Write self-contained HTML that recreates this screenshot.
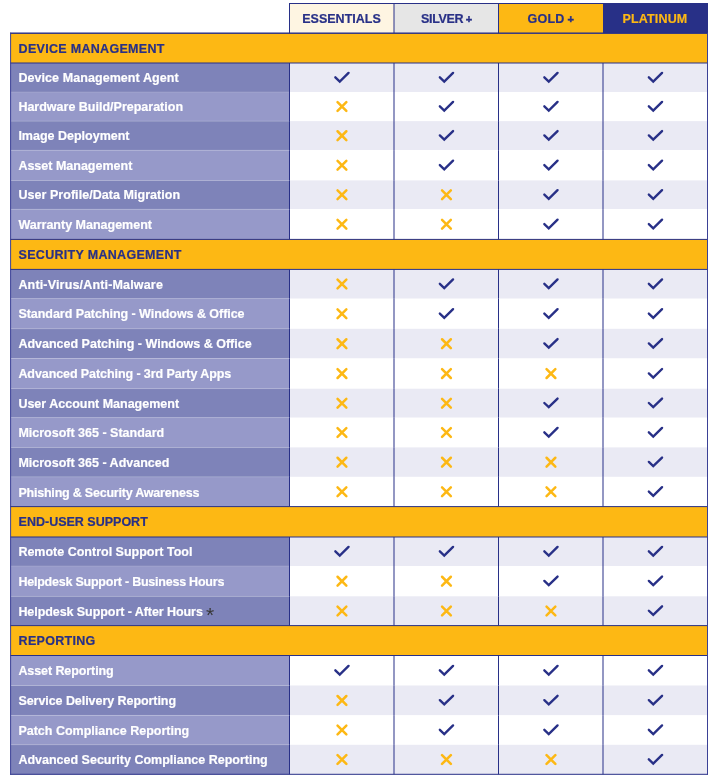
<!DOCTYPE html>
<html><head><meta charset="utf-8"><title>Plan comparison</title>
<style>
html,body{margin:0;padding:0;background:#fff;}
body{width:713px;height:778px;position:relative;overflow:hidden;font-family:"Liberation Sans",Arial,sans-serif;font-weight:bold;font-size:12.5px;line-height:15px;}
svg.bg{position:absolute;left:0;top:0;}
.t{position:absolute;white-space:nowrap;-webkit-text-stroke:0.2px currentColor;}
.hd{text-align:center;}
.pl{font-size:11px;margin-left:-0.8px;-webkit-text-stroke:0.45px currentColor;}
.lbl{left:18.4px;color:#fff;}
.sec{left:18.6px;color:#283087;letter-spacing:0.3px;}
.ast{position:relative;top:6px;margin-left:-0.2px;font-size:21px;font-weight:normal;line-height:0;color:#383838;-webkit-text-stroke:0;}
</style></head><body>
<svg class="bg" width="713" height="778" viewBox="0 0 713 778">
<rect x="289.5" y="3.5" width="104.5" height="29.7" fill="#fef5e2"/>
<rect x="394" y="3.5" width="104.5" height="29.7" fill="#e6e6e6"/>
<rect x="498.5" y="3.5" width="104.5" height="29.7" fill="#fdb814"/>
<rect x="603" y="3.5" width="104.5" height="29.7" fill="#283087"/>
<rect x="603" y="3" width="105" height="30.2" fill="#283087"/>
<rect x="10.6" y="33.2" width="696.9" height="29.8" fill="#fdb814"/>
<rect x="10.6" y="63" width="278.9" height="29" fill="#7e83b9"/>
<rect x="289.5" y="63" width="418" height="29" fill="#eaeaf4"/>
<rect x="10.6" y="92" width="278.9" height="29.1" fill="#9699c9"/>
<rect x="289.5" y="92" width="418" height="29.1" fill="#ffffff"/>
<rect x="10.6" y="121.1" width="278.9" height="29.1" fill="#7e83b9"/>
<rect x="289.5" y="121.1" width="418" height="29.1" fill="#eaeaf4"/>
<rect x="10.6" y="150.2" width="278.9" height="30.2" fill="#9699c9"/>
<rect x="289.5" y="150.2" width="418" height="30.2" fill="#ffffff"/>
<rect x="10.6" y="180.4" width="278.9" height="28.8" fill="#7e83b9"/>
<rect x="289.5" y="180.4" width="418" height="28.8" fill="#eaeaf4"/>
<rect x="10.6" y="209.2" width="278.9" height="30.2" fill="#9699c9"/>
<rect x="289.5" y="209.2" width="418" height="30.2" fill="#ffffff"/>
<rect x="10.6" y="239.4" width="696.9" height="30" fill="#fdb814"/>
<rect x="10.6" y="269.4" width="278.9" height="29.3" fill="#7e83b9"/>
<rect x="289.5" y="269.4" width="418" height="29.3" fill="#eaeaf4"/>
<rect x="10.6" y="298.7" width="278.9" height="30.1" fill="#9699c9"/>
<rect x="289.5" y="298.7" width="418" height="30.1" fill="#ffffff"/>
<rect x="10.6" y="328.8" width="278.9" height="29.7" fill="#7e83b9"/>
<rect x="289.5" y="328.8" width="418" height="29.7" fill="#eaeaf4"/>
<rect x="10.6" y="358.5" width="278.9" height="30.2" fill="#9699c9"/>
<rect x="289.5" y="358.5" width="418" height="30.2" fill="#ffffff"/>
<rect x="10.6" y="388.7" width="278.9" height="29" fill="#7e83b9"/>
<rect x="289.5" y="388.7" width="418" height="29" fill="#eaeaf4"/>
<rect x="10.6" y="417.7" width="278.9" height="29.7" fill="#9699c9"/>
<rect x="289.5" y="417.7" width="418" height="29.7" fill="#ffffff"/>
<rect x="10.6" y="447.4" width="278.9" height="29.5" fill="#7e83b9"/>
<rect x="289.5" y="447.4" width="418" height="29.5" fill="#eaeaf4"/>
<rect x="10.6" y="476.9" width="278.9" height="29.7" fill="#9699c9"/>
<rect x="289.5" y="476.9" width="418" height="29.7" fill="#ffffff"/>
<rect x="10.6" y="506.6" width="696.9" height="30.4" fill="#fdb814"/>
<rect x="10.6" y="537" width="278.9" height="29" fill="#7e83b9"/>
<rect x="289.5" y="537" width="418" height="29" fill="#eaeaf4"/>
<rect x="10.6" y="566" width="278.9" height="30.3" fill="#9699c9"/>
<rect x="289.5" y="566" width="418" height="30.3" fill="#ffffff"/>
<rect x="10.6" y="596.3" width="278.9" height="29.3" fill="#7e83b9"/>
<rect x="289.5" y="596.3" width="418" height="29.3" fill="#eaeaf4"/>
<rect x="10.6" y="625.6" width="696.9" height="29.9" fill="#fdb814"/>
<rect x="10.6" y="655.5" width="278.9" height="30" fill="#9699c9"/>
<rect x="289.5" y="655.5" width="418" height="30" fill="#ffffff"/>
<rect x="10.6" y="685.5" width="278.9" height="29.8" fill="#7e83b9"/>
<rect x="289.5" y="685.5" width="418" height="29.8" fill="#eaeaf4"/>
<rect x="10.6" y="715.3" width="278.9" height="29.5" fill="#9699c9"/>
<rect x="289.5" y="715.3" width="418" height="29.5" fill="#ffffff"/>
<rect x="10.6" y="744.8" width="278.9" height="29.5" fill="#7e83b9"/>
<rect x="289.5" y="744.8" width="418" height="29.5" fill="#eaeaf4"/>
<rect x="10.6" y="91.6" width="278.9" height="0.8" fill="#ffffff" fill-opacity="0.18"/>
<rect x="10.6" y="120.7" width="278.9" height="0.8" fill="#ffffff" fill-opacity="0.18"/>
<rect x="10.6" y="149.8" width="278.9" height="0.8" fill="#ffffff" fill-opacity="0.18"/>
<rect x="10.6" y="180" width="278.9" height="0.8" fill="#ffffff" fill-opacity="0.18"/>
<rect x="10.6" y="208.8" width="278.9" height="0.8" fill="#ffffff" fill-opacity="0.18"/>
<rect x="10.6" y="298.3" width="278.9" height="0.8" fill="#ffffff" fill-opacity="0.18"/>
<rect x="10.6" y="328.4" width="278.9" height="0.8" fill="#ffffff" fill-opacity="0.18"/>
<rect x="10.6" y="358.1" width="278.9" height="0.8" fill="#ffffff" fill-opacity="0.18"/>
<rect x="10.6" y="388.3" width="278.9" height="0.8" fill="#ffffff" fill-opacity="0.18"/>
<rect x="10.6" y="417.3" width="278.9" height="0.8" fill="#ffffff" fill-opacity="0.18"/>
<rect x="10.6" y="447" width="278.9" height="0.8" fill="#ffffff" fill-opacity="0.18"/>
<rect x="10.6" y="476.5" width="278.9" height="0.8" fill="#ffffff" fill-opacity="0.18"/>
<rect x="10.6" y="565.6" width="278.9" height="0.8" fill="#ffffff" fill-opacity="0.18"/>
<rect x="10.6" y="595.9" width="278.9" height="0.8" fill="#ffffff" fill-opacity="0.18"/>
<rect x="10.6" y="685.1" width="278.9" height="0.8" fill="#ffffff" fill-opacity="0.18"/>
<rect x="10.6" y="714.9" width="278.9" height="0.8" fill="#ffffff" fill-opacity="0.18"/>
<rect x="10.6" y="744.4" width="278.9" height="0.8" fill="#ffffff" fill-opacity="0.18"/>
<path d="M335.35 77.3 L339.75 81.5 L348.55 72.9" fill="none" stroke="#283087" stroke-width="2.4" stroke-linecap="round" stroke-linejoin="miter"/>
<path d="M439.85 77.3 L444.25 81.5 L453.05 72.9" fill="none" stroke="#283087" stroke-width="2.4" stroke-linecap="round" stroke-linejoin="miter"/>
<path d="M544.35 77.3 L548.75 81.5 L557.55 72.9" fill="none" stroke="#283087" stroke-width="2.4" stroke-linecap="round" stroke-linejoin="miter"/>
<path d="M648.85 77.3 L653.25 81.5 L662.05 72.9" fill="none" stroke="#283087" stroke-width="2.4" stroke-linecap="round" stroke-linejoin="miter"/>
<path d="M337.55 102.15 L346.35 110.95 M346.35 102.15 L337.55 110.95" fill="none" stroke="#fdb814" stroke-width="2.5" stroke-linecap="round"/>
<path d="M439.85 106.35 L444.25 110.55 L453.05 101.95" fill="none" stroke="#283087" stroke-width="2.4" stroke-linecap="round" stroke-linejoin="miter"/>
<path d="M544.35 106.35 L548.75 110.55 L557.55 101.95" fill="none" stroke="#283087" stroke-width="2.4" stroke-linecap="round" stroke-linejoin="miter"/>
<path d="M648.85 106.35 L653.25 110.55 L662.05 101.95" fill="none" stroke="#283087" stroke-width="2.4" stroke-linecap="round" stroke-linejoin="miter"/>
<path d="M337.55 131.25 L346.35 140.05 M346.35 131.25 L337.55 140.05" fill="none" stroke="#fdb814" stroke-width="2.5" stroke-linecap="round"/>
<path d="M439.85 135.45 L444.25 139.65 L453.05 131.05" fill="none" stroke="#283087" stroke-width="2.4" stroke-linecap="round" stroke-linejoin="miter"/>
<path d="M544.35 135.45 L548.75 139.65 L557.55 131.05" fill="none" stroke="#283087" stroke-width="2.4" stroke-linecap="round" stroke-linejoin="miter"/>
<path d="M648.85 135.45 L653.25 139.65 L662.05 131.05" fill="none" stroke="#283087" stroke-width="2.4" stroke-linecap="round" stroke-linejoin="miter"/>
<path d="M337.55 160.9 L346.35 169.7 M346.35 160.9 L337.55 169.7" fill="none" stroke="#fdb814" stroke-width="2.5" stroke-linecap="round"/>
<path d="M439.85 165.1 L444.25 169.3 L453.05 160.7" fill="none" stroke="#283087" stroke-width="2.4" stroke-linecap="round" stroke-linejoin="miter"/>
<path d="M544.35 165.1 L548.75 169.3 L557.55 160.7" fill="none" stroke="#283087" stroke-width="2.4" stroke-linecap="round" stroke-linejoin="miter"/>
<path d="M648.85 165.1 L653.25 169.3 L662.05 160.7" fill="none" stroke="#283087" stroke-width="2.4" stroke-linecap="round" stroke-linejoin="miter"/>
<path d="M337.55 190.4 L346.35 199.2 M346.35 190.4 L337.55 199.2" fill="none" stroke="#fdb814" stroke-width="2.5" stroke-linecap="round"/>
<path d="M442.05 190.4 L450.85 199.2 M450.85 190.4 L442.05 199.2" fill="none" stroke="#fdb814" stroke-width="2.5" stroke-linecap="round"/>
<path d="M544.35 194.6 L548.75 198.8 L557.55 190.2" fill="none" stroke="#283087" stroke-width="2.4" stroke-linecap="round" stroke-linejoin="miter"/>
<path d="M648.85 194.6 L653.25 198.8 L662.05 190.2" fill="none" stroke="#283087" stroke-width="2.4" stroke-linecap="round" stroke-linejoin="miter"/>
<path d="M337.55 219.9 L346.35 228.7 M346.35 219.9 L337.55 228.7" fill="none" stroke="#fdb814" stroke-width="2.5" stroke-linecap="round"/>
<path d="M442.05 219.9 L450.85 228.7 M450.85 219.9 L442.05 228.7" fill="none" stroke="#fdb814" stroke-width="2.5" stroke-linecap="round"/>
<path d="M544.35 224.1 L548.75 228.3 L557.55 219.7" fill="none" stroke="#283087" stroke-width="2.4" stroke-linecap="round" stroke-linejoin="miter"/>
<path d="M648.85 224.1 L653.25 228.3 L662.05 219.7" fill="none" stroke="#283087" stroke-width="2.4" stroke-linecap="round" stroke-linejoin="miter"/>
<path d="M337.55 279.65 L346.35 288.45 M346.35 279.65 L337.55 288.45" fill="none" stroke="#fdb814" stroke-width="2.5" stroke-linecap="round"/>
<path d="M439.85 283.85 L444.25 288.05 L453.05 279.45" fill="none" stroke="#283087" stroke-width="2.4" stroke-linecap="round" stroke-linejoin="miter"/>
<path d="M544.35 283.85 L548.75 288.05 L557.55 279.45" fill="none" stroke="#283087" stroke-width="2.4" stroke-linecap="round" stroke-linejoin="miter"/>
<path d="M648.85 283.85 L653.25 288.05 L662.05 279.45" fill="none" stroke="#283087" stroke-width="2.4" stroke-linecap="round" stroke-linejoin="miter"/>
<path d="M337.55 309.35 L346.35 318.15 M346.35 309.35 L337.55 318.15" fill="none" stroke="#fdb814" stroke-width="2.5" stroke-linecap="round"/>
<path d="M439.85 313.55 L444.25 317.75 L453.05 309.15" fill="none" stroke="#283087" stroke-width="2.4" stroke-linecap="round" stroke-linejoin="miter"/>
<path d="M544.35 313.55 L548.75 317.75 L557.55 309.15" fill="none" stroke="#283087" stroke-width="2.4" stroke-linecap="round" stroke-linejoin="miter"/>
<path d="M648.85 313.55 L653.25 317.75 L662.05 309.15" fill="none" stroke="#283087" stroke-width="2.4" stroke-linecap="round" stroke-linejoin="miter"/>
<path d="M337.55 339.25 L346.35 348.05 M346.35 339.25 L337.55 348.05" fill="none" stroke="#fdb814" stroke-width="2.5" stroke-linecap="round"/>
<path d="M442.05 339.25 L450.85 348.05 M450.85 339.25 L442.05 348.05" fill="none" stroke="#fdb814" stroke-width="2.5" stroke-linecap="round"/>
<path d="M544.35 343.45 L548.75 347.65 L557.55 339.05" fill="none" stroke="#283087" stroke-width="2.4" stroke-linecap="round" stroke-linejoin="miter"/>
<path d="M648.85 343.45 L653.25 347.65 L662.05 339.05" fill="none" stroke="#283087" stroke-width="2.4" stroke-linecap="round" stroke-linejoin="miter"/>
<path d="M337.55 369.2 L346.35 378 M346.35 369.2 L337.55 378" fill="none" stroke="#fdb814" stroke-width="2.5" stroke-linecap="round"/>
<path d="M442.05 369.2 L450.85 378 M450.85 369.2 L442.05 378" fill="none" stroke="#fdb814" stroke-width="2.5" stroke-linecap="round"/>
<path d="M546.55 369.2 L555.35 378 M555.35 369.2 L546.55 378" fill="none" stroke="#fdb814" stroke-width="2.5" stroke-linecap="round"/>
<path d="M648.85 373.4 L653.25 377.6 L662.05 369" fill="none" stroke="#283087" stroke-width="2.4" stroke-linecap="round" stroke-linejoin="miter"/>
<path d="M337.55 398.8 L346.35 407.6 M346.35 398.8 L337.55 407.6" fill="none" stroke="#fdb814" stroke-width="2.5" stroke-linecap="round"/>
<path d="M442.05 398.8 L450.85 407.6 M450.85 398.8 L442.05 407.6" fill="none" stroke="#fdb814" stroke-width="2.5" stroke-linecap="round"/>
<path d="M544.35 403 L548.75 407.2 L557.55 398.6" fill="none" stroke="#283087" stroke-width="2.4" stroke-linecap="round" stroke-linejoin="miter"/>
<path d="M648.85 403 L653.25 407.2 L662.05 398.6" fill="none" stroke="#283087" stroke-width="2.4" stroke-linecap="round" stroke-linejoin="miter"/>
<path d="M337.55 428.15 L346.35 436.95 M346.35 428.15 L337.55 436.95" fill="none" stroke="#fdb814" stroke-width="2.5" stroke-linecap="round"/>
<path d="M442.05 428.15 L450.85 436.95 M450.85 428.15 L442.05 436.95" fill="none" stroke="#fdb814" stroke-width="2.5" stroke-linecap="round"/>
<path d="M544.35 432.35 L548.75 436.55 L557.55 427.95" fill="none" stroke="#283087" stroke-width="2.4" stroke-linecap="round" stroke-linejoin="miter"/>
<path d="M648.85 432.35 L653.25 436.55 L662.05 427.95" fill="none" stroke="#283087" stroke-width="2.4" stroke-linecap="round" stroke-linejoin="miter"/>
<path d="M337.55 457.75 L346.35 466.55 M346.35 457.75 L337.55 466.55" fill="none" stroke="#fdb814" stroke-width="2.5" stroke-linecap="round"/>
<path d="M442.05 457.75 L450.85 466.55 M450.85 457.75 L442.05 466.55" fill="none" stroke="#fdb814" stroke-width="2.5" stroke-linecap="round"/>
<path d="M546.55 457.75 L555.35 466.55 M555.35 457.75 L546.55 466.55" fill="none" stroke="#fdb814" stroke-width="2.5" stroke-linecap="round"/>
<path d="M648.85 461.95 L653.25 466.15 L662.05 457.55" fill="none" stroke="#283087" stroke-width="2.4" stroke-linecap="round" stroke-linejoin="miter"/>
<path d="M337.55 487.35 L346.35 496.15 M346.35 487.35 L337.55 496.15" fill="none" stroke="#fdb814" stroke-width="2.5" stroke-linecap="round"/>
<path d="M442.05 487.35 L450.85 496.15 M450.85 487.35 L442.05 496.15" fill="none" stroke="#fdb814" stroke-width="2.5" stroke-linecap="round"/>
<path d="M546.55 487.35 L555.35 496.15 M555.35 487.35 L546.55 496.15" fill="none" stroke="#fdb814" stroke-width="2.5" stroke-linecap="round"/>
<path d="M648.85 491.55 L653.25 495.75 L662.05 487.15" fill="none" stroke="#283087" stroke-width="2.4" stroke-linecap="round" stroke-linejoin="miter"/>
<path d="M335.35 551.3 L339.75 555.5 L348.55 546.9" fill="none" stroke="#283087" stroke-width="2.4" stroke-linecap="round" stroke-linejoin="miter"/>
<path d="M439.85 551.3 L444.25 555.5 L453.05 546.9" fill="none" stroke="#283087" stroke-width="2.4" stroke-linecap="round" stroke-linejoin="miter"/>
<path d="M544.35 551.3 L548.75 555.5 L557.55 546.9" fill="none" stroke="#283087" stroke-width="2.4" stroke-linecap="round" stroke-linejoin="miter"/>
<path d="M648.85 551.3 L653.25 555.5 L662.05 546.9" fill="none" stroke="#283087" stroke-width="2.4" stroke-linecap="round" stroke-linejoin="miter"/>
<path d="M337.55 576.75 L346.35 585.55 M346.35 576.75 L337.55 585.55" fill="none" stroke="#fdb814" stroke-width="2.5" stroke-linecap="round"/>
<path d="M442.05 576.75 L450.85 585.55 M450.85 576.75 L442.05 585.55" fill="none" stroke="#fdb814" stroke-width="2.5" stroke-linecap="round"/>
<path d="M544.35 580.95 L548.75 585.15 L557.55 576.55" fill="none" stroke="#283087" stroke-width="2.4" stroke-linecap="round" stroke-linejoin="miter"/>
<path d="M648.85 580.95 L653.25 585.15 L662.05 576.55" fill="none" stroke="#283087" stroke-width="2.4" stroke-linecap="round" stroke-linejoin="miter"/>
<path d="M337.55 606.55 L346.35 615.35 M346.35 606.55 L337.55 615.35" fill="none" stroke="#fdb814" stroke-width="2.5" stroke-linecap="round"/>
<path d="M442.05 606.55 L450.85 615.35 M450.85 606.55 L442.05 615.35" fill="none" stroke="#fdb814" stroke-width="2.5" stroke-linecap="round"/>
<path d="M546.55 606.55 L555.35 615.35 M555.35 606.55 L546.55 615.35" fill="none" stroke="#fdb814" stroke-width="2.5" stroke-linecap="round"/>
<path d="M648.85 610.75 L653.25 614.95 L662.05 606.35" fill="none" stroke="#283087" stroke-width="2.4" stroke-linecap="round" stroke-linejoin="miter"/>
<path d="M335.35 670.3 L339.75 674.5 L348.55 665.9" fill="none" stroke="#283087" stroke-width="2.4" stroke-linecap="round" stroke-linejoin="miter"/>
<path d="M439.85 670.3 L444.25 674.5 L453.05 665.9" fill="none" stroke="#283087" stroke-width="2.4" stroke-linecap="round" stroke-linejoin="miter"/>
<path d="M544.35 670.3 L548.75 674.5 L557.55 665.9" fill="none" stroke="#283087" stroke-width="2.4" stroke-linecap="round" stroke-linejoin="miter"/>
<path d="M648.85 670.3 L653.25 674.5 L662.05 665.9" fill="none" stroke="#283087" stroke-width="2.4" stroke-linecap="round" stroke-linejoin="miter"/>
<path d="M337.55 696 L346.35 704.8 M346.35 696 L337.55 704.8" fill="none" stroke="#fdb814" stroke-width="2.5" stroke-linecap="round"/>
<path d="M439.85 700.2 L444.25 704.4 L453.05 695.8" fill="none" stroke="#283087" stroke-width="2.4" stroke-linecap="round" stroke-linejoin="miter"/>
<path d="M544.35 700.2 L548.75 704.4 L557.55 695.8" fill="none" stroke="#283087" stroke-width="2.4" stroke-linecap="round" stroke-linejoin="miter"/>
<path d="M648.85 700.2 L653.25 704.4 L662.05 695.8" fill="none" stroke="#283087" stroke-width="2.4" stroke-linecap="round" stroke-linejoin="miter"/>
<path d="M337.55 725.65 L346.35 734.45 M346.35 725.65 L337.55 734.45" fill="none" stroke="#fdb814" stroke-width="2.5" stroke-linecap="round"/>
<path d="M439.85 729.85 L444.25 734.05 L453.05 725.45" fill="none" stroke="#283087" stroke-width="2.4" stroke-linecap="round" stroke-linejoin="miter"/>
<path d="M544.35 729.85 L548.75 734.05 L557.55 725.45" fill="none" stroke="#283087" stroke-width="2.4" stroke-linecap="round" stroke-linejoin="miter"/>
<path d="M648.85 729.85 L653.25 734.05 L662.05 725.45" fill="none" stroke="#283087" stroke-width="2.4" stroke-linecap="round" stroke-linejoin="miter"/>
<path d="M337.55 755.15 L346.35 763.95 M346.35 755.15 L337.55 763.95" fill="none" stroke="#fdb814" stroke-width="2.5" stroke-linecap="round"/>
<path d="M442.05 755.15 L450.85 763.95 M450.85 755.15 L442.05 763.95" fill="none" stroke="#fdb814" stroke-width="2.5" stroke-linecap="round"/>
<path d="M546.55 755.15 L555.35 763.95 M555.35 755.15 L546.55 763.95" fill="none" stroke="#fdb814" stroke-width="2.5" stroke-linecap="round"/>
<path d="M648.85 759.35 L653.25 763.55 L662.05 754.95" fill="none" stroke="#283087" stroke-width="2.4" stroke-linecap="round" stroke-linejoin="miter"/>
<rect x="289" y="3" width="314" height="1" fill="#283087"/>
<rect x="289" y="3" width="1" height="30.2" fill="#283087"/>
<rect x="393.5" y="3" width="1" height="30.2" fill="#283087"/>
<rect x="498" y="3" width="1" height="30.2" fill="#283087"/>
<rect x="10.1" y="32.7" width="697.9" height="1" fill="#283087"/>
<rect x="10.1" y="773.8" width="697.9" height="1" fill="#283087"/>
<rect x="10.1" y="32.7" width="697.9" height="1" fill="#283087"/>
<rect x="10.1" y="62.5" width="697.9" height="1" fill="#283087"/>
<rect x="10.1" y="238.9" width="697.9" height="1" fill="#283087"/>
<rect x="10.1" y="268.9" width="697.9" height="1" fill="#283087"/>
<rect x="10.1" y="506.1" width="697.9" height="1" fill="#283087"/>
<rect x="10.1" y="536.5" width="697.9" height="1" fill="#283087"/>
<rect x="10.1" y="625.1" width="697.9" height="1" fill="#283087"/>
<rect x="10.1" y="655" width="697.9" height="1" fill="#283087"/>
<rect x="10.1" y="32.7" width="1" height="742.1" fill="#3b4196"/>
<rect x="707" y="32.7" width="1" height="742.1" fill="#3b4196"/>
<rect x="289" y="63" width="1" height="29" fill="#283087"/>
<rect x="393.5" y="63" width="1" height="29" fill="#283087"/>
<rect x="498" y="63" width="1" height="29" fill="#283087"/>
<rect x="602.5" y="63" width="1" height="29" fill="#283087"/>
<rect x="289" y="92" width="1" height="29.1" fill="#283087"/>
<rect x="393.5" y="92" width="1" height="29.1" fill="#283087"/>
<rect x="498" y="92" width="1" height="29.1" fill="#283087"/>
<rect x="602.5" y="92" width="1" height="29.1" fill="#283087"/>
<rect x="289" y="121.1" width="1" height="29.1" fill="#283087"/>
<rect x="393.5" y="121.1" width="1" height="29.1" fill="#283087"/>
<rect x="498" y="121.1" width="1" height="29.1" fill="#283087"/>
<rect x="602.5" y="121.1" width="1" height="29.1" fill="#283087"/>
<rect x="289" y="150.2" width="1" height="30.2" fill="#283087"/>
<rect x="393.5" y="150.2" width="1" height="30.2" fill="#283087"/>
<rect x="498" y="150.2" width="1" height="30.2" fill="#283087"/>
<rect x="602.5" y="150.2" width="1" height="30.2" fill="#283087"/>
<rect x="289" y="180.4" width="1" height="28.8" fill="#283087"/>
<rect x="393.5" y="180.4" width="1" height="28.8" fill="#283087"/>
<rect x="498" y="180.4" width="1" height="28.8" fill="#283087"/>
<rect x="602.5" y="180.4" width="1" height="28.8" fill="#283087"/>
<rect x="289" y="209.2" width="1" height="30.2" fill="#283087"/>
<rect x="393.5" y="209.2" width="1" height="30.2" fill="#283087"/>
<rect x="498" y="209.2" width="1" height="30.2" fill="#283087"/>
<rect x="602.5" y="209.2" width="1" height="30.2" fill="#283087"/>
<rect x="289" y="269.4" width="1" height="29.3" fill="#283087"/>
<rect x="393.5" y="269.4" width="1" height="29.3" fill="#283087"/>
<rect x="498" y="269.4" width="1" height="29.3" fill="#283087"/>
<rect x="602.5" y="269.4" width="1" height="29.3" fill="#283087"/>
<rect x="289" y="298.7" width="1" height="30.1" fill="#283087"/>
<rect x="393.5" y="298.7" width="1" height="30.1" fill="#283087"/>
<rect x="498" y="298.7" width="1" height="30.1" fill="#283087"/>
<rect x="602.5" y="298.7" width="1" height="30.1" fill="#283087"/>
<rect x="289" y="328.8" width="1" height="29.7" fill="#283087"/>
<rect x="393.5" y="328.8" width="1" height="29.7" fill="#283087"/>
<rect x="498" y="328.8" width="1" height="29.7" fill="#283087"/>
<rect x="602.5" y="328.8" width="1" height="29.7" fill="#283087"/>
<rect x="289" y="358.5" width="1" height="30.2" fill="#283087"/>
<rect x="393.5" y="358.5" width="1" height="30.2" fill="#283087"/>
<rect x="498" y="358.5" width="1" height="30.2" fill="#283087"/>
<rect x="602.5" y="358.5" width="1" height="30.2" fill="#283087"/>
<rect x="289" y="388.7" width="1" height="29" fill="#283087"/>
<rect x="393.5" y="388.7" width="1" height="29" fill="#283087"/>
<rect x="498" y="388.7" width="1" height="29" fill="#283087"/>
<rect x="602.5" y="388.7" width="1" height="29" fill="#283087"/>
<rect x="289" y="417.7" width="1" height="29.7" fill="#283087"/>
<rect x="393.5" y="417.7" width="1" height="29.7" fill="#283087"/>
<rect x="498" y="417.7" width="1" height="29.7" fill="#283087"/>
<rect x="602.5" y="417.7" width="1" height="29.7" fill="#283087"/>
<rect x="289" y="447.4" width="1" height="29.5" fill="#283087"/>
<rect x="393.5" y="447.4" width="1" height="29.5" fill="#283087"/>
<rect x="498" y="447.4" width="1" height="29.5" fill="#283087"/>
<rect x="602.5" y="447.4" width="1" height="29.5" fill="#283087"/>
<rect x="289" y="476.9" width="1" height="29.7" fill="#283087"/>
<rect x="393.5" y="476.9" width="1" height="29.7" fill="#283087"/>
<rect x="498" y="476.9" width="1" height="29.7" fill="#283087"/>
<rect x="602.5" y="476.9" width="1" height="29.7" fill="#283087"/>
<rect x="289" y="537" width="1" height="29" fill="#283087"/>
<rect x="393.5" y="537" width="1" height="29" fill="#283087"/>
<rect x="498" y="537" width="1" height="29" fill="#283087"/>
<rect x="602.5" y="537" width="1" height="29" fill="#283087"/>
<rect x="289" y="566" width="1" height="30.3" fill="#283087"/>
<rect x="393.5" y="566" width="1" height="30.3" fill="#283087"/>
<rect x="498" y="566" width="1" height="30.3" fill="#283087"/>
<rect x="602.5" y="566" width="1" height="30.3" fill="#283087"/>
<rect x="289" y="596.3" width="1" height="29.3" fill="#283087"/>
<rect x="393.5" y="596.3" width="1" height="29.3" fill="#283087"/>
<rect x="498" y="596.3" width="1" height="29.3" fill="#283087"/>
<rect x="602.5" y="596.3" width="1" height="29.3" fill="#283087"/>
<rect x="289" y="655.5" width="1" height="30" fill="#283087"/>
<rect x="393.5" y="655.5" width="1" height="30" fill="#283087"/>
<rect x="498" y="655.5" width="1" height="30" fill="#283087"/>
<rect x="602.5" y="655.5" width="1" height="30" fill="#283087"/>
<rect x="289" y="685.5" width="1" height="29.8" fill="#283087"/>
<rect x="393.5" y="685.5" width="1" height="29.8" fill="#283087"/>
<rect x="498" y="685.5" width="1" height="29.8" fill="#283087"/>
<rect x="602.5" y="685.5" width="1" height="29.8" fill="#283087"/>
<rect x="289" y="715.3" width="1" height="29.5" fill="#283087"/>
<rect x="393.5" y="715.3" width="1" height="29.5" fill="#283087"/>
<rect x="498" y="715.3" width="1" height="29.5" fill="#283087"/>
<rect x="602.5" y="715.3" width="1" height="29.5" fill="#283087"/>
<rect x="289" y="744.8" width="1" height="29.5" fill="#283087"/>
<rect x="393.5" y="744.8" width="1" height="29.5" fill="#283087"/>
<rect x="498" y="744.8" width="1" height="29.5" fill="#283087"/>
<rect x="602.5" y="744.8" width="1" height="29.5" fill="#283087"/>
</svg>
<div class="t hd" style="left:289.5px;width:104px;top:12px;color:#283087;letter-spacing:0px">ESSENTIALS</div>
<div class="t hd" style="left:394.4px;width:104px;top:12px;color:#283087;letter-spacing:-0.3px">SILVER <span class="pl">+</span></div>
<div class="t hd" style="left:498.9px;width:104px;top:12px;color:#283087;letter-spacing:0.25px">GOLD <span class="pl">+</span></div>
<div class="t hd" style="left:603px;width:104px;top:12px;color:#fdb814;letter-spacing:0.15px">PLATINUM</div>
<div class="t sec" style="top:42px">DEVICE MANAGEMENT</div>
<div class="t lbl" style="top:71px;letter-spacing:0.073px">Device Management Agent</div>
<div class="t lbl" style="top:100px">Hardware Build/Preparation</div>
<div class="t lbl" style="top:129px">Image Deployment</div>
<div class="t lbl" style="top:159px">Asset Management</div>
<div class="t lbl" style="top:188px;letter-spacing:0.05px">User Profile/Data Migration</div>
<div class="t lbl" style="top:218px">Warranty Management</div>
<div class="t sec" style="top:248px">SECURITY MANAGEMENT</div>
<div class="t lbl" style="top:278px;letter-spacing:0.168px">Anti-Virus/Anti-Malware</div>
<div class="t lbl" style="top:307px;letter-spacing:-0.043px">Standard Patching - Windows &amp; Office</div>
<div class="t lbl" style="top:337px">Advanced Patching - Windows &amp; Office</div>
<div class="t lbl" style="top:367px;letter-spacing:-0.082px">Advanced Patching - 3rd Party Apps</div>
<div class="t lbl" style="top:397px">User Account Management</div>
<div class="t lbl" style="top:426px">Microsoft 365 - Standard</div>
<div class="t lbl" style="top:456px">Microsoft 365 - Advanced</div>
<div class="t lbl" style="top:486px;letter-spacing:-0.211px">Phishing &amp; Security Awareness</div>
<div class="t sec" style="top:515px;letter-spacing:0.0px">END-USER SUPPORT</div>
<div class="t lbl" style="top:545px">Remote Control Support Tool</div>
<div class="t lbl" style="top:575px;letter-spacing:-0.228px">Helpdesk Support - Business Hours</div>
<div class="t lbl" style="top:605px;letter-spacing:-0.066px">Helpdesk Support - After Hours <span class="ast">*</span></div>
<div class="t sec" style="top:634px">REPORTING</div>
<div class="t lbl" style="top:664px;letter-spacing:-0.086px">Asset Reporting</div>
<div class="t lbl" style="top:694px;letter-spacing:-0.056px">Service Delivery Reporting</div>
<div class="t lbl" style="top:724px">Patch Compliance Reporting</div>
<div class="t lbl" style="top:753px">Advanced Security Compliance Reporting</div>
</body></html>
